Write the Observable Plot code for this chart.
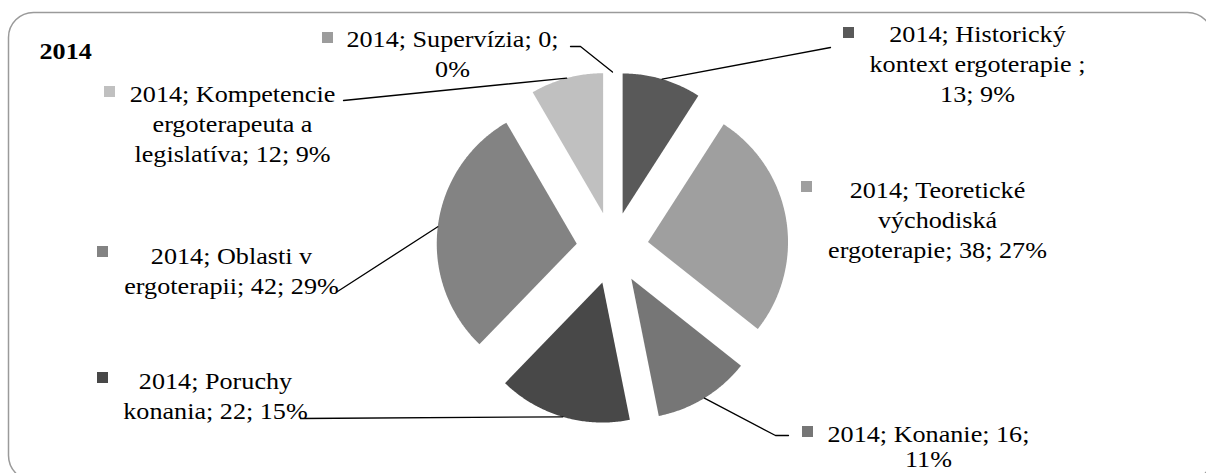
<!DOCTYPE html>
<html><head><meta charset="utf-8">
<script src="https://cdn.jsdelivr.net/npm/d3@7"></script>
<script src="https://cdn.jsdelivr.net/npm/@observablehq/plot@0.6"></script>
<style>body{margin:0;background:#fff;overflow:hidden} svg text{font-family:"Liberation Serif","Times New Roman",serif !important;}</style>
</head><body><div id="chart"></div>
<script>
// ---- data ----
const year = "2014";
const categories = [
  "Historický kontext ergoterapie ",
  "Teoretické východiská ergoterapie",
  "Konanie",
  "Poruchy konania",
  "Oblasti v ergoterapii",
  "Kompetencie ergoterapeuta a legislatíva",
  "Supervízia"
];
const values = [13, 38, 16, 22, 42, 12, 0];
const colors = ["#595959", "#9f9f9f", "#767676", "#484848", "#838383", "#c0c0c0", "#9c9c9c"];

// ---- layout (label placement, pixels) ----
const pieLayout = {cx: 612, cy: 247.5, r: 140, explode: 36};
const labelLayout = [
  {cx: 977, y0: 41,  lh: 30, breaks: [2, 3, 2], key: [843, 27],  leader: [[830, 47]]},
  {cx: 937, y0: 197, lh: 30, breaks: [2, 1, 3], key: [801, 181], leader: null},
  {cx: 928, y0: 441, lh: 25, breaks: [3, 1],    key: [802, 426], leader: [[788, 435], [775, 435]]},
  {cx: 215, y0: 388, lh: 30, breaks: [2, 3],    key: [97, 372],  leader: [[300, 418]]},
  {cx: 231, y0: 263, lh: 30, breaks: [3, 3],    key: [97, 246],  leader: [[337, 291]]},
  {cx: 232, y0: 101, lh: 30, breaks: [2, 2, 3], key: [104, 86],  leader: [[343, 100]]},
  {cx: 452, y0: 46,  lh: 30, breaks: [3, 1],    key: [322, 32],  leader: [[570, 46], [580, 46]]}
];
const keySize = 11, textScaleX = 1.09;
const W = 1206, H = 473;
const font = "Liberation Serif";

// ---- percentages (largest remainder, as in Excel) ----
const total = d3.sum(values);
const raw = values.map(v => v / total * 100);
const pct = raw.map(Math.floor);
let rest = 100 - d3.sum(pct);
d3.range(values.length).sort((a, b) => (raw[b] - pct[b]) - (raw[a] - pct[a]))
  .forEach(i => { if (rest > 0 && values[i] > 0) { pct[i]++; rest--; } });

// ---- pie geometry ----
const arcs = d3.pie().sort(null).value(d => d)(values);
const {cx, cy, r, explode} = pieLayout;
const slices = arcs.map((a, i) => {
  const m = (a.startAngle + a.endAngle) / 2;
  const ax = cx + explode * Math.sin(m), ay = cy - explode * Math.cos(m);
  const n = Math.max(2, Math.ceil((a.endAngle - a.startAngle) / 0.01));
  const pts = [{x: ax, y: ay}];
  if (a.endAngle > a.startAngle) {
    for (let k = 0; k <= n; k++) {
      const t = a.startAngle + (a.endAngle - a.startAngle) * k / n;
      pts.push({x: ax + r * Math.sin(t), y: ay - r * Math.cos(t)});
    }
  }
  return {i, value: values[i], color: colors[i], pts,
          mid: {x: ax + r * Math.sin(m), y: ay - r * Math.cos(m)}};
});

// ---- labels ----
const textRows = [], keys = [], leaders = [];
categories.forEach((c, i) => {
  const L = labelLayout[i];
  const words = `${year}; ${c.trim() === c ? c + ";" : c.trim() + " ;"} ${values[i]}; ${pct[i]}%`.split(" ");
  let w = 0;
  L.breaks.forEach((b, j) => {
    textRows.push({x: L.cx, y: L.y0 + j * L.lh, text: words.slice(w, w + b).join(" ")});
    w += b;
  });
  keys.push({x1: L.key[0], x2: L.key[0] + keySize, y1: L.key[1], y2: L.key[1] + keySize, color: colors[i]});
  if (L.leader) {
    L.leader.forEach(p => leaders.push({id: i, x: p[0], y: p[1]}));
    leaders.push({id: i, x: slices[i].mid.x, y: slices[i].mid.y});
  }
});

const chart = Plot.plot({
  width: W, height: H,
  marginLeft: 8, marginTop: 12, marginRight: -6, marginBottom: -7,
  x: {domain: [0, W], range: [0, W], axis: null},
  y: {domain: [0, H], range: [0, H], axis: null},
  color: {type: "identity"},
  style: {fontFamily: font, background: "white", overflow: "hidden"},
  marks: [
    Plot.frame({rx: 25, stroke: "#9a9a9a", strokeWidth: 1.5}),
    ...slices.filter(s => s.value > 0).map(s =>
      Plot.line(s.pts, {x: "x", y: "y", fill: s.color, stroke: "none", curve: "linear-closed"})),
    Plot.line(leaders, {x: "x", y: "y", z: "id", stroke: "#000", strokeWidth: 1.3}),
    Plot.rect(keys, {x1: "x1", x2: "x2", y1: "y1", y2: "y2", fill: "color", inset: 0}),
    Plot.text(textRows, {x: "x", y: "y", text: "text", textAnchor: "middle", lineAnchor: "bottom",
      fontSize: 24, fontFamily: font, fill: "#000"}),
    Plot.text([year], {x: () => 39, y: () => 58, text: d => d, textAnchor: "start", lineAnchor: "bottom",
      fontSize: 24, fontFamily: font, fontWeight: "bold", fill: "#000"})
  ]
});
d3.select(chart).selectAll("text").each(function () {
  this.setAttribute("font-family", font);
  this.style.fontFamily = `"${font}", serif`;
  const t = this.getAttribute("transform");
  if (t) this.setAttribute("transform", t + ` scale(${textScaleX},1)`);
  else {
    const x = +this.getAttribute("x") || 0;
    this.setAttribute("transform", `translate(${x},0) scale(${textScaleX},1) translate(${-x},0)`);
  }
});
document.getElementById("chart").appendChild(chart);
</script>
</body></html>
